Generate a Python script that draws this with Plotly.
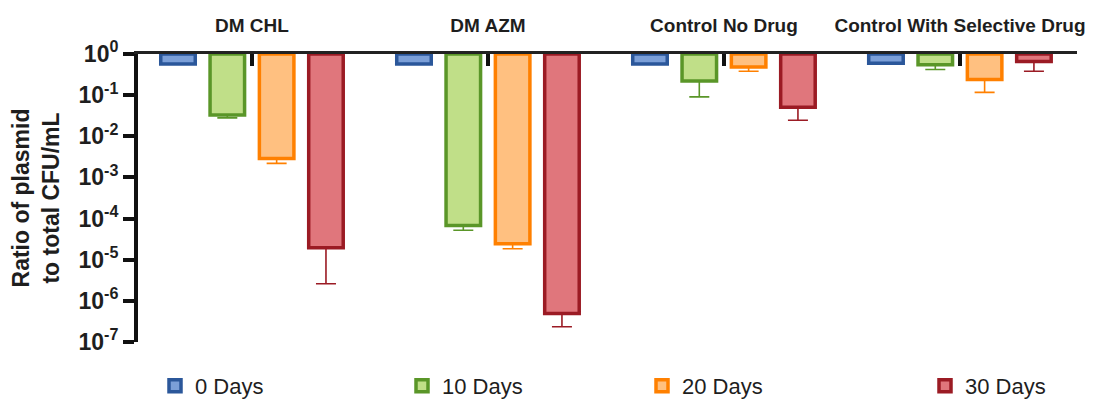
import plotly.graph_objects as go

groups = ["DM CHL", "DM AZM", "Control No Drug", "Control With Selective Drug"]
series_names = ["0 Days", "10 Days", "20 Days", "30 Days"]

# mean ratio of plasmid to total CFU/mL
ratio_0d = [0.57, 0.57, 0.57, 0.60]
ratio_10d = [0.033, 6.8e-5, 0.22, 0.55]
ratio_20d = [0.0029, 2.45e-5, 0.48, 0.24]
ratio_30d = [1.95e-5, 4.9e-7, 0.051, 0.66]

# lower end of the error bars
low_0d = [0.57, 0.57, 0.57, 0.60]
low_10d = [0.028, 5.2e-5, 0.091, 0.42]
low_20d = [0.0022, 1.85e-5, 0.38, 0.117]
low_30d = [2.6e-6, 2.35e-7, 0.0245, 0.38]

fill_colors = ["#7b9fd8", "#c0df88", "#ffc080", "#e0767c"]
line_colors = ["#2b579a", "#5a9628", "#ff8000", "#9b1b24"]

tick_vals = [1, 1e-1, 1e-2, 1e-3, 1e-4, 1e-5, 1e-6, 1e-7]
tick_text = ["<b>10<sup>0</sup></b>", "<b>10<sup>-1</sup></b>", "<b>10<sup>-2</sup></b>",
             "<b>10<sup>-3</sup></b>", "<b>10<sup>-4</sup></b>", "<b>10<sup>-5</sup></b>",
             "<b>10<sup>-6</sup></b>", "<b>10<sup>-7</sup></b>"]

FONT = "Liberation Sans, Arial, sans-serif"
TEXT = "#1e1e1e"

all_vals = [ratio_0d, ratio_10d, ratio_20d, ratio_30d]
all_lows = [low_0d, low_10d, low_20d, low_30d]
legend_ids = ["legend", "legend2", "legend3", "legend4"]

# page body has an 8px margin; figure coordinates are shifted accordingly
OFF = 8
legend_left_px = [155 - OFF, 402 - OFF, 642 - OFF, 925 - OFF]

fig = go.Figure()
for i, name in enumerate(series_names):
    vals = all_vals[i]
    lows = all_lows[i]
    fig.add_trace(go.Bar(
        x=list(range(len(groups))),
        base=[1] * len(vals),
        y=[v - 1 for v in vals],
        name=name,
        legend=legend_ids[i],
        showlegend=True,
        marker=dict(color=fill_colors[i], line=dict(color=line_colors[i], width=3.5)),
        error_y=dict(type="data", symmetric=False, array=[0] * len(vals),
                     arrayminus=[v - lo for v, lo in zip(vals, lows)],
                     color=line_colors[i], thickness=1.6, width=10),
    ))

W, H = 1093 - OFF, 400 - OFF
L, R, T = 138 - OFF, 16, 54 - OFF
ph = 288
B = H - T - ph
pw = W - L - R

layout_legends = {}
for i, lid in enumerate(legend_ids):
    layout_legends[lid] = dict(
        x=(legend_left_px[i] - L) / pw, xanchor="left",
        y=(H - B - (386 - OFF)) / ph, yanchor="middle",
        orientation="h", bgcolor="rgba(0,0,0,0)",
        font=dict(family=FONT, size=22, color=TEXT),
    )

fig.update_layout(
    width=W, height=H,
    margin=dict(l=L, r=R, t=T, b=B, autoexpand=False),
    paper_bgcolor="white", plot_bgcolor="white",
    barmode="group", bargap=0.164, bargroupgap=0.3,
    font=dict(family=FONT, color=TEXT),
    showlegend=True,
    **layout_legends,
)

fig.update_xaxes(
    side="top", range=[-0.483, 3.496],
    tickmode="array", tickvals=list(range(len(groups))),
    ticktext=["<b>" + g + "</b>" for g in groups],
    tickfont=dict(family=FONT, size=19, color=TEXT),
    ticks="inside", ticklen=12, tickwidth=4, tickcolor="#111",
    ticklabelstandoff=11,
    showline=True, linewidth=3, linecolor="#222",
    showgrid=False, zeroline=False, automargin=False,
)

fig.update_yaxes(
    type="log", range=[-7, 0],
    tickmode="array", tickvals=tick_vals, ticktext=tick_text,
    tickfont=dict(family=FONT, size=23, color=TEXT),
    ticks="outside", ticklen=11, tickwidth=4, tickcolor="#111",
    showline=True, linewidth=4, linecolor="#111",
    showgrid=False, zeroline=False, automargin=False,
    title=dict(text="<b>Ratio of plasmid<br>to total CFU/mL</b>",
               font=dict(family=FONT, size=23, color=TEXT), standoff=14),
)

fig.write_html("out.html")
